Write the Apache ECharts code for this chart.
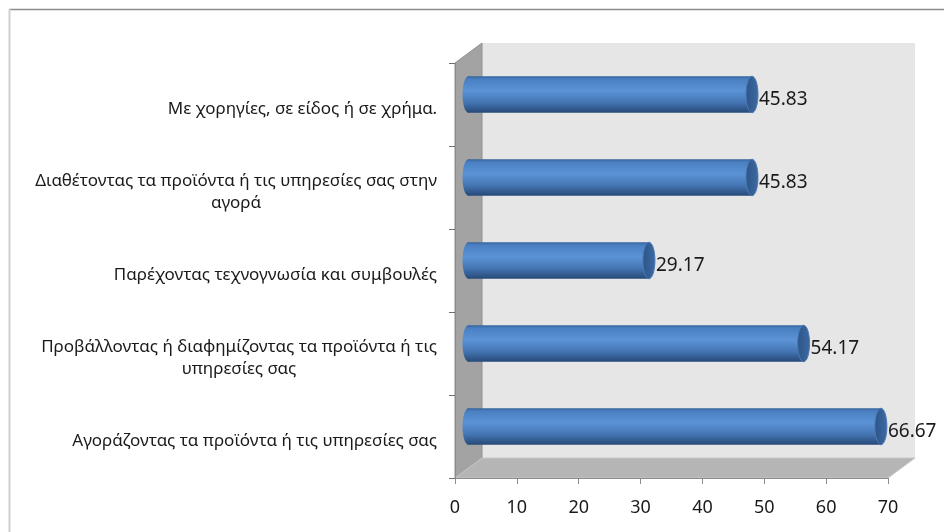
<!DOCTYPE html>
<html>
<head>
<meta charset="utf-8">
<script src="https://cdn.jsdelivr.net/npm/echarts@6/dist/echarts.min.js"></script>
<style>
  html, body { margin: 0; padding: 0; background: #fff; }
  #chart { width: 944px; height: 532px; }
</style>
</head>
<body>
<div id="chart"></div>
<script>
// κατηγορίες από πάνω προς τα κάτω
var categories = [
    'Με χορηγίες, σε είδος ή σε χρήμα.',
    'Διαθέτοντας τα προϊόντα ή τις υπηρεσίες σας στην\nαγορά',
    'Παρέχοντας τεχνογνωσία και συμβουλές',
    'Προβάλλοντας ή διαφημίζοντας τα προϊόντα ή τις\nυπηρεσίες σας',
    'Αγοράζοντας τα προϊόντα ή τις υπηρεσίες σας'
];
var values = [45.83, 45.83, 29.17, 54.17, 66.67];
var xTicks = [0, 10, 20, 30, 40, 50, 60, 70];

var FONT = '"Noto Sans", sans-serif';
var LABEL_SIZE = 17;

// μπροστινό επίπεδο και βάθος του 3D
var front = { left: 455, top: 63, width: 433, height: 415 };
var dx = 27, dy = 20;

// μέτρηση πλάτους για να κεντραριστεί η δεύτερη γραμμή
var ctx = document.createElement('canvas').getContext('2d');
ctx.font = LABEL_SIZE + 'px ' + FONT;
var rich = {};
categories.forEach(function (c, i) {
    var lines = c.split('\n');
    rich['a' + i] = { fontSize: LABEL_SIZE, fontFamily: FONT, color: '#1a1a1a', lineHeight: 22 };
    rich['b' + i] = {
        fontSize: LABEL_SIZE, fontFamily: FONT, color: '#1a1a1a', lineHeight: 22,
        width: Math.ceil(ctx.measureText(lines[0]).width), align: 'center'
    };
});

var bodyGrad = new echarts.graphic.LinearGradient(0, 0, 0, 1, [
    { offset: 0, color: '#35639c' },
    { offset: 0.08, color: '#4a80c2' },
    { offset: 0.4, color: '#5b93d6' },
    { offset: 0.7, color: '#4677b5' },
    { offset: 1, color: '#264a78' }
]);
var capGrad = new echarts.graphic.LinearGradient(0, 0, 1, 0, [
    { offset: 0, color: '#2c5587' },
    { offset: 1, color: '#3d6aa3' }
]);

function renderCylinder(params, api) {
    var v = api.value(0);
    var c = api.value(1);
    var s = api.coord([0, c]);
    var e = api.coord([v, c]);
    var h = api.size([0, 1])[1] * 0.44;
    var rx = 6;
    return {
        type: 'group',
        children: [
            { type: 'ellipse', shape: { cx: s[0], cy: s[1], rx: rx, ry: h / 2 }, style: { fill: bodyGrad } },
            { type: 'rect', shape: { x: s[0], y: s[1] - h / 2, width: e[0] - s[0], height: h }, style: { fill: bodyGrad } },
            { type: 'ellipse', shape: { cx: e[0], cy: e[1], rx: rx, ry: h / 2 },
              style: { fill: capGrad, stroke: '#4a7bb8', lineWidth: 1 } },
            { type: 'text', style: {
                text: v.toFixed(2), x: e[0] + rx + 1, y: e[1] + 5,
                fill: '#1a1a1a', fontSize: 19, fontFamily: FONT, verticalAlign: 'middle', align: 'left'
            } }
        ]
    };
}

var chart = echarts.init(document.getElementById('chart'));
var option = {
    backgroundColor: '#fff',
    animation: false,
    graphic: [
        // πλαίσιο
        { type: 'line', z: -5, shape: { x1: 9, y1: 9.5, x2: 944, y2: 9.5 }, style: { stroke: '#8c8c8c', lineWidth: 1.5 } },
        { type: 'line', z: -5, shape: { x1: 9.5, y1: 9, x2: 9.5, y2: 532 }, style: { stroke: '#d0d0d0', lineWidth: 2 } },
        // πίσω τοίχος
        { type: 'rect', z: -5, shape: { x: front.left + dx, y: front.top - dy, width: front.width, height: front.height },
          style: { fill: '#e6e6e6' } },
        // αριστερός τοίχος
        { type: 'polygon', z: -5, shape: { points: [
            [front.left, front.top], [front.left + dx, front.top - dy],
            [front.left + dx, front.top + front.height - dy], [front.left, front.top + front.height]
        ] }, style: { fill: '#a3a3a3', stroke: '#8f8f8f', lineWidth: 1 } },
        // δάπεδο
        { type: 'polygon', z: -5, shape: { points: [
            [front.left, front.top + front.height], [front.left + dx, front.top + front.height - dy],
            [front.left + front.width + dx, front.top + front.height - dy], [front.left + front.width, front.top + front.height]
        ] }, style: { fill: '#b5b5b5', stroke: '#c8c8c8', lineWidth: 1 } }
    ],
    grid: [
        { left: front.left, top: front.top, width: front.width, height: front.height },
        { left: front.left + dx / 2, top: front.top - dy / 2, width: front.width, height: front.height }
    ],
    xAxis: [
        {
            gridIndex: 0, type: 'value', min: 0, max: 70, interval: 10,
            axisLine: { show: true, lineStyle: { color: '#8c8c8c' } },
            axisTick: { show: true, length: 6, lineStyle: { color: '#8c8c8c' } },
            splitLine: { show: false },
            axisLabel: { fontSize: 18, fontFamily: FONT, color: '#1a1a1a', margin: 21,
                formatter: function (v) { return xTicks.indexOf(v) >= 0 ? String(v) : ''; } }
        },
        { gridIndex: 1, type: 'value', min: 0, max: 70, show: false }
    ],
    yAxis: [
        {
            gridIndex: 0, type: 'category', data: categories, inverse: true,
            axisLine: { show: true, lineStyle: { color: '#8c8c8c' } },
            axisTick: { show: true, length: 6, lineStyle: { color: '#6e6e6e' } },
            axisLabel: {
                margin: 18,
                padding: [9, 0, 0, 0],
                formatter: function (v) {
                    var i = categories.indexOf(v);
                    var lines = v.split('\n');
                    if (lines.length === 1) return '{a' + i + '|' + lines[0] + '}';
                    return '{a' + i + '|' + lines[0] + '}\n{b' + i + '|' + lines[1] + '}';
                },
                rich: rich
            }
        },
        { gridIndex: 1, type: 'category', data: categories, inverse: true, show: false }
    ],
    series: [
        {
            type: 'custom',
            xAxisIndex: 1, yAxisIndex: 1,
            renderItem: renderCylinder,
            encode: { x: 0, y: 1 },
            data: values.map(function (v, i) { return [v, i]; }),
            z: 5
        }
    ]
};
chart.setOption(option);
</script>
</body>
</html>
